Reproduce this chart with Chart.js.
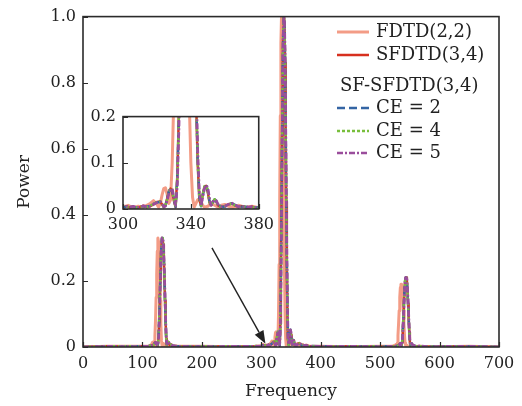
<!DOCTYPE html>
<html>
<head>
<meta charset="utf-8">
<script src="https://cdn.jsdelivr.net/npm/chart.js@4.4.0/dist/chart.umd.min.js"></script>
<style>
  body { margin: 0; background: #fff; }
  #wrap { position: relative; width: 522px; height: 406px; }
  #main { position: absolute; left: 0; top: 0; }
  #inset { position: absolute; left: 88px; top: 100px; }
</style>
</head>
<body>
<div id="wrap">
  <canvas id="main" width="522" height="406"></canvas>
  <canvas id="inset" width="192" height="140"></canvas>
</div>
<script>
// spectra (frequency, normalised power)
const fdtdFreq = [0,40,80,100,110,114,116,117,118,119,120,121,122,123,124,125,126,127,128,129,130,131,132,133,134,135,136,138,142,150,200,250,290,
  300,303,306,309,312,314,316,318,320,321,322,323,324,325,326,327,328,329,330,331,332,333,334,335,336,337,338,339,340,341,342,343,344,345,346,347,348,350,352,354,356,358,360,362,365,368,372,376,380,
  400,450,500,520,526,527,528,529,530,531,532,533,534,535,536,537,538,539,540,541,542,543,544,546,552,600,650,700];
const fdtdPower = [0,.002,.002,.002,.002,.006,.010,.014,.015,.010,.004,.033,.08,.15,.22,.29,.33,.32,.28,.22,.14,.07,.02,.004,.008,.010,.006,.004,.003,.002,.002,.001,.002,
  .004,.008,.003,.006,.004,.008,.012,.018,.010,.004,.012,.030,.044,.046,.032,.012,.02,.10,.25,.45,.70,.92,1,.96,.82,.62,.42,.24,.10,.025,.004,.012,.020,.022,.016,.008,.004,.006,.012,.008,.004,.008,.010,.006,.004,.008,.004,.006,.003,
  .002,.001,.002,.002,.006,.008,.004,.012,.035,.07,.11,.15,.18,.19,.19,.18,.15,.11,.07,.035,.012,.004,.006,.004,.002,.001,.002,0];

// shared frequency grid of SFDTD(3,4) and the SF-SFDTD(3,4) runs
const sfFreq = [0,40,80,100,110,115,118,120,122,
  124,125,126,127,128,129,130,131,132,133,134,135,136,137,138,139,140,141,142,143,144,
  146,148,150,155,160,200,250,280,290,
  300,302,304,306,308,310,312,314,316,318,320,322,
  323,324,325,326,327,328,329,330,331,332,333,334,335,336,337,338,339,340,341,342,343,344,345,346,347,348,349,350,351,352,353,354,355,356,
  358,360,362,364,366,368,370,372,374,376,378,380,
  400,450,500,520,525,530,
  533,534,535,536,537,538,539,540,541,542,543,544,545,546,547,548,549,550,551,552,553,554,555,
  558,562,566,580,620,660,700];
const sfdtdPower = [0,.002,.001,.002,.002,.004,.006,.010,.014,
  .010,.004,.008,.025,.075,.14,.205,.27,.31,.33,.33,.31,.27,.205,.14,.075,.025,.006,.010,.016,.014,
  .006,.008,.004,.003,.002,.001,.002,.001,.002,
  .002,.006,.003,.005,.002,.004,.007,.004,.006,.010,.015,.016,
  .010,.004,.008,.022,.036,.044,.038,.018,.004,.07,.22,.42,.64,.84,.96,1,.98,.86,.66,.44,.25,.10,.02,.008,.032,.048,.050,.036,.014,.008,.016,.020,.016,.008,
  .004,.006,.010,.012,.008,.004,.006,.004,.003,.005,.003,.002,
  .001,.002,.001,.002,.002,.004,
  .008,.010,.006,.004,.015,.045,.085,.13,.17,.20,.21,.21,.20,.17,.13,.085,.045,.015,.004,.008,.010,.007,.005,
  .003,.002,.003,.001,.002,.001,0];
const ce2Power = [0,.001,.002,.002,.003,.004,.007,.011,.013,
  .009,.005,.009,.026,.074,.14,.20,.27,.31,.33,.33,.31,.27,.21,.14,.078,.026,.007,.011,.015,.013,
  .007,.007,.004,.002,.002,.002,.001,.002,.002,
  .003,.005,.004,.004,.003,.005,.006,.005,.007,.011,.014,.015,
  .011,.005,.007,.020,.038,.046,.040,.020,.005,.065,.21,.41,.63,.84,.96,1,.98,.87,.67,.45,.26,.11,.025,.006,.030,.046,.052,.040,.016,.007,.015,.021,.017,.009,
  .005,.005,.009,.012,.009,.005,.005,.005,.004,.004,.003,.003,
  .002,.001,.002,.002,.003,.004,
  .007,.011,.007,.004,.014,.044,.085,.13,.17,.20,.21,.21,.20,.17,.13,.088,.046,.016,.005,.008,.011,.008,.005,
  .003,.003,.002,.002,.001,.002,0];
const ce4Power = [0,.002,.002,.001,.002,.005,.006,.009,.013,
  .011,.005,.008,.024,.073,.14,.20,.27,.31,.33,.33,.31,.27,.21,.145,.078,.027,.006,.010,.016,.015,
  .006,.008,.005,.003,.001,.002,.002,.001,.003,
  .002,.005,.004,.005,.003,.004,.006,.004,.007,.011,.015,.017,
  .011,.004,.008,.021,.037,.045,.041,.021,.005,.066,.21,.41,.63,.84,.96,1,.98,.87,.67,.45,.26,.11,.024,.007,.031,.049,.051,.038,.015,.008,.016,.021,.016,.008,
  .004,.006,.010,.011,.008,.004,.006,.005,.003,.004,.003,.002,
  .001,.002,.002,.001,.002,.005,
  .008,.010,.006,.004,.014,.044,.086,.13,.17,.20,.21,.21,.20,.17,.13,.088,.047,.016,.004,.008,.010,.007,.004,
  .003,.002,.002,.002,.002,.001,0];
const ce5Power = [0,.002,.001,.002,.002,.004,.005,.009,.014,
  .012,.005,.006,.020,.060,.12,.19,.26,.30,.33,.33,.32,.28,.22,.16,.09,.035,.010,.009,.015,.016,
  .008,.008,.005,.003,.002,.001,.002,.002,.002,
  .003,.006,.004,.006,.003,.004,.007,.005,.006,.010,.014,.016,
  .012,.005,.006,.018,.033,.042,.044,.026,.008,.05,.18,.38,.60,.81,.95,1,.99,.89,.70,.48,.29,.13,.035,.008,.026,.044,.052,.046,.022,.008,.014,.020,.018,.010,
  .005,.006,.010,.013,.009,.005,.006,.005,.004,.005,.003,.002,
  .002,.002,.001,.002,.002,.004,
  .008,.011,.007,.003,.012,.038,.078,.12,.165,.20,.21,.21,.205,.18,.14,.10,.055,.022,.006,.008,.011,.008,.005,
  .004,.002,.003,.001,.002,.002,0];

const seriesLabels = ['FDTD(2,2)', 'SFDTD(3,4)', 'CE = 2', 'CE = 4', 'CE = 5'];
const legendTitle = 'SF-SFDTD(3,4)';
const xTicksMain = [0, 700, 100];     // min, max, step
const yTicksMain = [0, 1, 0.2];
const xTicksInset = [300, 380, 40];
const yTicksInset = [0, 0.2, 0.1];
const arrowFrom = [217, 0.30];
const arrowTo = [307, 0.010];

const serif = 'DejaVu Serif';
const ink = '#222';
const colors = ['#f39c86', '#d7301f', '#3465a4', '#78be3c', '#9a4d9c'];
const widths = [3, 2.5, 2.5, 2.5, 2.7];
const dashes = [[], [], [8, 4], [3, 2], [6, 2, 2, 2]];

function toPoints(xs, ys) {
  return xs.map((x, i) => ({ x: x, y: ys[i] }));
}

function makeDatasets() {
  const src = [[fdtdFreq, fdtdPower], [sfFreq, sfdtdPower], [sfFreq, ce2Power], [sfFreq, ce4Power], [sfFreq, ce5Power]];
  return src.map((s, i) => ({
    label: seriesLabels[i],
    data: toPoints(s[0], s[1]),
    borderColor: colors[i],
    borderWidth: widths[i],
    borderDash: dashes[i],
    borderJoinStyle: 'round',
    pointRadius: 0,
    tension: 0,
    fill: false,
    order: 5 - i
  }));
}

function fmt(v) {
  if (Math.abs(v) < 1e-9) return '0';
  return v.toFixed(1);
}

// inward ticks + full frame
const frameTicks = {
  id: 'frameTicks',
  beforeDraw(chart, args, opts) {
    if (!opts.fill) return;
    const a = chart.chartArea;
    chart.ctx.save();
    chart.ctx.fillStyle = '#fff';
    chart.ctx.fillRect(a.left, a.top, a.right - a.left, a.bottom - a.top);
    chart.ctx.restore();
  },
  afterDatasetsDraw(chart) {
    const ctx = chart.ctx, a = chart.chartArea, sx = chart.scales.x, sy = chart.scales.y;
    ctx.save();
    ctx.strokeStyle = '#2b2b2b';
    ctx.lineWidth = 1.2;
    ctx.beginPath();
    sx.ticks.forEach(t => {
      const px = Math.round(sx.getPixelForValue(t.value)) + 0.5;
      ctx.moveTo(px, a.bottom); ctx.lineTo(px, a.bottom - 5);
    });
    sy.ticks.forEach(t => {
      const py = Math.round(sy.getPixelForValue(t.value)) + 0.5;
      ctx.moveTo(a.left, py); ctx.lineTo(a.left + 5, py);
    });
    ctx.stroke();
    ctx.lineWidth = 1.6;
    ctx.strokeRect(a.left, a.top, a.right - a.left, a.bottom - a.top);
    ctx.restore();
  }
};

const legendAndArrow = {
  id: 'legendAndArrow',
  afterDraw(chart) {
    const ctx = chart.ctx, sx = chart.scales.x, sy = chart.scales.y;
    const ds = chart.data.datasets;
    ctx.save();
    ctx.font = '18px "' + serif + '"';
    ctx.textBaseline = 'middle';
    ctx.fillStyle = ink;
    const rows = [[0, 32], [1, 55], [2, 108], [3, 131], [4, 153]];
    rows.forEach(r => {
      const d = ds[r[0]];
      ctx.save();
      ctx.strokeStyle = d.borderColor;
      ctx.lineWidth = d.borderWidth;
      ctx.setLineDash(d.borderDash);
      ctx.beginPath();
      ctx.moveTo(337, r[1]); ctx.lineTo(369, r[1]);
      ctx.stroke();
      ctx.restore();
      ctx.fillText(d.label, 376, r[1]);
    });
    ctx.fillText(legendTitle, 340, 86);

    // arrow pointing at the side lobes
    const x0 = sx.getPixelForValue(arrowFrom[0]), y0 = sy.getPixelForValue(arrowFrom[1]);
    const x1 = sx.getPixelForValue(arrowTo[0]), y1 = sy.getPixelForValue(arrowTo[1]);
    const ang = Math.atan2(y1 - y0, x1 - x0);
    const len = 13, half = 5;
    const bx = x1 - len * Math.cos(ang), by = y1 - len * Math.sin(ang);
    ctx.strokeStyle = ink;
    ctx.fillStyle = ink;
    ctx.lineWidth = 1.4;
    ctx.beginPath();
    ctx.moveTo(x0, y0); ctx.lineTo(bx, by);
    ctx.stroke();
    ctx.beginPath();
    ctx.moveTo(x1, y1);
    ctx.lineTo(bx + half * Math.sin(ang), by - half * Math.cos(ang));
    ctx.lineTo(bx - half * Math.sin(ang), by + half * Math.cos(ang));
    ctx.closePath();
    ctx.fill();
    ctx.restore();
  }
};

function axis(range, tickFont, extra) {
  return Object.assign({
    type: 'linear',
    min: range[0],
    max: range[1],
    grid: { display: false, drawTicks: false },
    border: { display: false },
    ticks: { stepSize: range[2], padding: 7, color: ink, font: { family: serif, size: tickFont }, callback: v => fmt(v), maxRotation: 0 }
  }, extra);
}

new Chart(document.getElementById('main'), {
  type: 'line',
  data: { datasets: makeDatasets() },
  options: {
    responsive: false,
    animation: false,
    events: [],
    layout: { padding: { top: 15, right: 23, left: 0, bottom: 0 } },
    plugins: { legend: { display: false }, tooltip: { enabled: false }, frameTicks: { fill: false } },
    scales: {
      x: axis(xTicksMain, 16, {
        ticks: { stepSize: xTicksMain[2], padding: 7, color: ink, font: { family: serif, size: 16 }, callback: v => String(v), maxRotation: 0 },
        title: { display: true, text: 'Frequency', color: ink, font: { family: serif, size: 17 }, padding: { top: 0, bottom: 4 } },
        afterFit: s => { s.height = 59; }
      }),
      y: axis(yTicksMain, 16, {
        title: { display: true, text: 'Power', color: ink, font: { family: serif, size: 17 }, padding: { top: 14, bottom: 0 } },
        afterFit: s => { s.width = 83; }
      })
    }
  },
  plugins: [frameTicks, legendAndArrow]
});

new Chart(document.getElementById('inset'), {
  type: 'line',
  data: { datasets: makeDatasets() },
  options: {
    responsive: false,
    animation: false,
    events: [],
    layout: { padding: { top: 12, right: 21, left: 0, bottom: 0 } },
    plugins: { legend: { display: false }, tooltip: { enabled: false }, frameTicks: { fill: true } },
    scales: {
      x: axis(xTicksInset, 16, {
        ticks: { stepSize: xTicksInset[2], padding: 6, color: ink, font: { family: serif, size: 16 }, callback: v => String(v), maxRotation: 0 },
        afterFit: s => { s.height = 31; }
      }),
      y: axis(yTicksInset, 16, { afterFit: s => { s.width = 35; } })
    }
  },
  plugins: [frameTicks]
});
</script>
</body>
</html>
